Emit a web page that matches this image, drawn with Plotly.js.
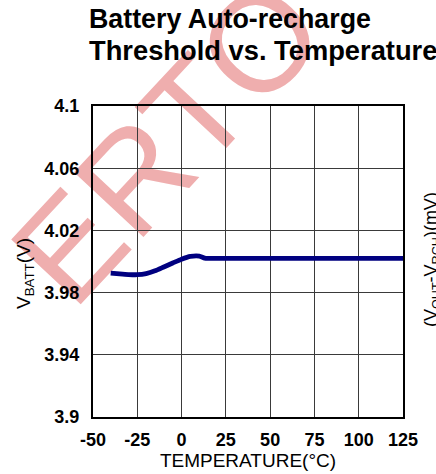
<!DOCTYPE html>
<html>
<head>
<meta charset="utf-8">
<script src="https://cdn.plot.ly/plotly-3.0.1.min.js"></script>
<style>html,body{margin:0;padding:0;background:#fff;}#chart{width:436px;height:474px;}</style>
</head>
<body>
<div id="chart"></div>
<script>
// Data
const temperature = [-40, -35, -30, -25, -20, -15, -10, -5, 0, 5, 10, 13, 15, 25, 50, 75, 100, 125];
const vbatt = [3.9925, 3.9920, 3.9916, 3.9915, 3.9922, 3.9940, 3.9965, 3.9990, 4.0015, 4.0033, 4.0035, 4.0022, 4.0020, 4.0020, 4.0020, 4.0020, 4.0020, 4.0020];
const xTicks = [-50, -25, 0, 25, 50, 75, 100, 125];
const yTicks = [3.9, 3.94, 3.98, 4.02, 4.06, 4.1];
const yTickText = ["3.9", "3.94", "3.98", "4.02", "4.06", "4.1"];
const titleLines = ["Battery Auto-recharge", "Threshold vs. Temperature"];

const FONT = "Arial, 'Liberation Sans', Helvetica, sans-serif";
const L = 93, T = 106, PW = 310, PH = 311;
const px = (x) => (x - L) / PW;
const py = (y) => (T + PH - y) / PH;

const trace = {
  x: temperature,
  y: vbatt,
  type: 'scatter',
  mode: 'lines',
  line: {color: '#000080', width: 4.8, shape: 'spline', smoothing: 0.6},
  hoverinfo: 'skip'
};

const layout = {
  width: 436,
  height: 474,
  margin: {l: L, r: 436 - L - PW, t: T, b: 474 - T - PH},
  paper_bgcolor: '#ffffff',
  plot_bgcolor: 'rgba(0,0,0,0)',
  showlegend: false,
  title: {
    text: titleLines[0],
    font: {family: FONT, size: 26.8, color: '#000', weight: 'bold'},
    x: 89/436, xref: 'container', xanchor: 'left',
    y: 1 - 9/474, yref: 'container', yanchor: 'top'
  },
  xaxis: {
    range: [-50, 125],
    tickvals: xTicks,
    ticktext: xTicks.map(String),
    showgrid: true, gridcolor: '#3a3a3a', gridwidth: 1,
    zeroline: false,
    showline: true, linecolor: '#000', linewidth: 2, mirror: true,
    ticks: '', ticklabelstandoff: 5,
    tickfont: {family: FONT, size: 18, color: '#000', weight: 'bold'},
    title: {text: 'TEMPERATURE(°C)', font: {family: FONT, size: 19, color: '#000'}, standoff: 4},
    fixedrange: true
  },
  yaxis: {
    range: [3.9, 4.1],
    tickvals: yTicks,
    ticktext: yTickText,
    showgrid: true, gridcolor: '#3a3a3a', gridwidth: 1,
    zeroline: false,
    showline: true, linecolor: '#000', linewidth: 2, mirror: true,
    ticks: '', ticklabelstandoff: 8,
    tickfont: {family: FONT, size: 18, color: '#000', weight: 'bold'},
    fixedrange: true
  },
  shapes: [{
    type: 'rect', xref: 'paper', yref: 'paper', x0: px(157), x1: px(158), y0: py(133), y1: py(132),
    layer: 'below', line: {width: 0}, fillcolor: 'rgba(0,0,0,0)',
    label: {text: 'ERTO', textangle: -47, textposition: 'middle center',
            font: {family: FONT, size: 138, color: '#efaeae'}}
  }],
  annotations: [
    {
      text: titleLines[1],
      xref: 'paper', yref: 'paper', x: px(87), y: py(50),
      xanchor: 'left', yanchor: 'middle', showarrow: false,
      font: {family: FONT, size: 27.3, color: '#000', weight: 'bold'}
    },
    {
      text: 'V<sub>BATT</sub>(V)',
      xref: 'paper', yref: 'paper', x: px(25), y: py(274),
      xanchor: 'center', yanchor: 'middle', textangle: -90, showarrow: false,
      font: {family: FONT, size: 19, color: '#000'}
    },
    {
      text: '(V<sub>OUT</sub>-V<sub>RCH</sub>)(mV)',
      xref: 'paper', yref: 'paper',
      x: px(432), y: py(260),
      xanchor: 'center', yanchor: 'middle',
      textangle: -90, showarrow: false,
      font: {family: FONT, size: 18, color: '#000'}
    }
  ]
};

Plotly.newPlot('chart', [trace], layout, {displayModeBar: false, staticPlot: true});
</script>
</body>
</html>
